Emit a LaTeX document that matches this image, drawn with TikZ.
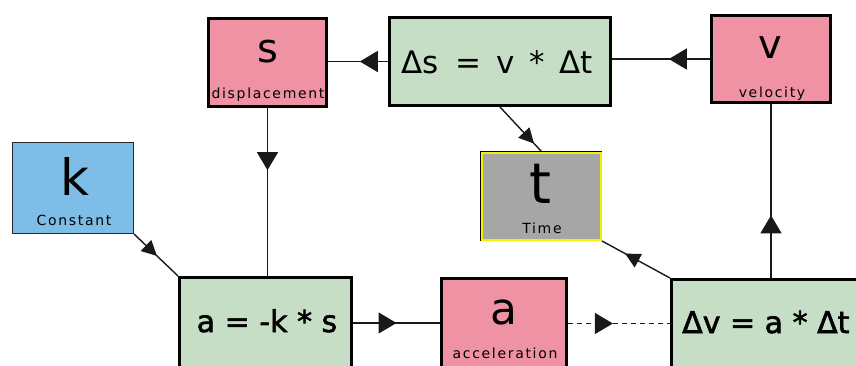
\documentclass[tikz,border=0pt]{standalone}
\usepackage{fontspec}
\setmainfont{DejaVu Sans}
\newfontfamily\subfont[LetterSpace=12]{DejaVu Sans}
\newfontfamily\boldeqfont[FakeBold=2]{DejaVu Sans}
\usetikzlibrary{arrows.meta,decorations.markings}
\definecolor{pinkbox}{RGB}{239,146,163}
\definecolor{greenbox}{RGB}{198,222,198}
\definecolor{bluebox}{RGB}{125,189,232}
\definecolor{graybox}{RGB}{166,166,166}
\definecolor{yellowline}{RGB}{245,240,0}
\begin{document}
\begin{tikzpicture}[x=1pt,y=-1pt,
  var/.style={rectangle, draw=black, line width=3pt, fill=pinkbox, inner sep=0pt},
  eq/.style={rectangle, draw=black, line width=3pt, fill=greenbox, inner sep=0pt},
  const/.style={rectangle, draw=black!85, line width=1pt, fill=bluebox, inner sep=0pt},
  timebox/.style={rectangle, draw=black, line width=1pt, fill=graybox, inner sep=0pt},
  lbl/.style={inner sep=0pt, anchor=base},
  sub/.style={inner sep=0pt, anchor=base, text=black, font=\subfont\fontsize{14}{14}\selectfont},
  conn/.style={line width=1.4pt, draw=black!90},
  midtip/.style={postaction={decorate}, decoration={markings, mark=at position #1 with {\arrow[solid]{Triangle[length=18pt,width=21pt]}}}},
  smalltip/.style={postaction={decorate}, decoration={markings, mark=at position #1 with {\arrow[solid]{Triangle[length=15pt,width=15pt]}}}}
]
\useasboundingbox (0,0) rectangle (856,365);
\fill[white] (0,0) rectangle (856,365);
\clip (0,0) rectangle (856,365);

% boxes
\node[var, minimum width=118pt, minimum height=88pt] (s) at (267.5,62.5) {};
\node[eq, minimum width=221pt, minimum height=88pt] (ds) at (500,61.5) {};
\node[var, minimum width=119pt, minimum height=87pt] (v) at (771,59) {};
\node[const, minimum width=121pt, minimum height=91pt] (k) at (73,188) {};
\node[timebox, minimum width=121pt, minimum height=89pt] (t) at (541,196) {};
\draw[yellowline, line width=2pt] ([shift={(1.5,1.5)}]t.north west) rectangle ([shift={(-1.5,-1.5)}]t.south east);
\node[eq, minimum width=172pt, minimum height=91pt] (aks) at (265.5,323) {};
\node[var, minimum width=125pt, minimum height=90pt] (acc) at (504,323.5) {};
\node[eq, minimum width=197pt, minimum height=89pt] (dv) at (770,324) {};

% texts
\node[lbl, font=\fontsize{40}{40}\selectfont] (sl) at (268,62) {s};
\node[sub] (sd) at (268,98) {displacement};
\node[lbl, anchor=base west, font=\fontsize{31}{31}\selectfont] (dsl) at (401,73) {Δs\hspace{17pt}=\hspace{15pt}v\hspace{15pt}*\hspace{14pt}Δt};
\node[lbl, font=\fontsize{40}{40}\selectfont] (vl) at (770,58) {v};
\node[sub] (vd) at (772,97) {velocity};
\node[lbl, font=\fontsize{50}{50}\selectfont] (kl) at (75,195) {k};
\node[sub] (kd) at (74,225) {Constant};
\node[lbl, font=\fontsize{56}{56}\selectfont] (tl) at (540,203) {t};
\node[sub] (td) at (542,233) {Time};
\node[lbl, font=\boldeqfont\fontsize{30}{30}\selectfont] (aksl) at (267,332) {a = -k * s};
\node[lbl, font=\fontsize{44}{44}\selectfont] (al) at (504,324) {a};
\node[sub] (ad) at (505,358) {acceleration};
\node[lbl, anchor=base west, font=\boldeqfont\fontsize{30}{30}\selectfont] (dvl) at (682,333) {Δv = a * Δt};

% connectors
\draw[conn, midtip=0.42] (v.west) -- (v.west -| ds.east);
\draw[conn, midtip=0.47] (ds.west) -- (ds.west -| s.east);
\draw[conn, midtip=0.37] (s.south) -- (s.south |- aks.north);
\draw[conn, smalltip=0.52] (k.south east) -- (aks.north west);
\draw[conn, midtip=0.5] (aks.east) -- (aks.east -| acc.west);
\draw[conn, dash pattern=on 5pt off 4pt, midtip=0.44] (acc.east) -- (acc.east -| dv.west);
\draw[conn, smalltip=0.83] (ds.south) -- (t.north);
\draw[conn, smalltip=0.66] (dv.north west) -- (t.south east);
\draw[conn, midtip=0.36] (v.south |- dv.north) -- (v.south);
\end{tikzpicture}
\end{document}
